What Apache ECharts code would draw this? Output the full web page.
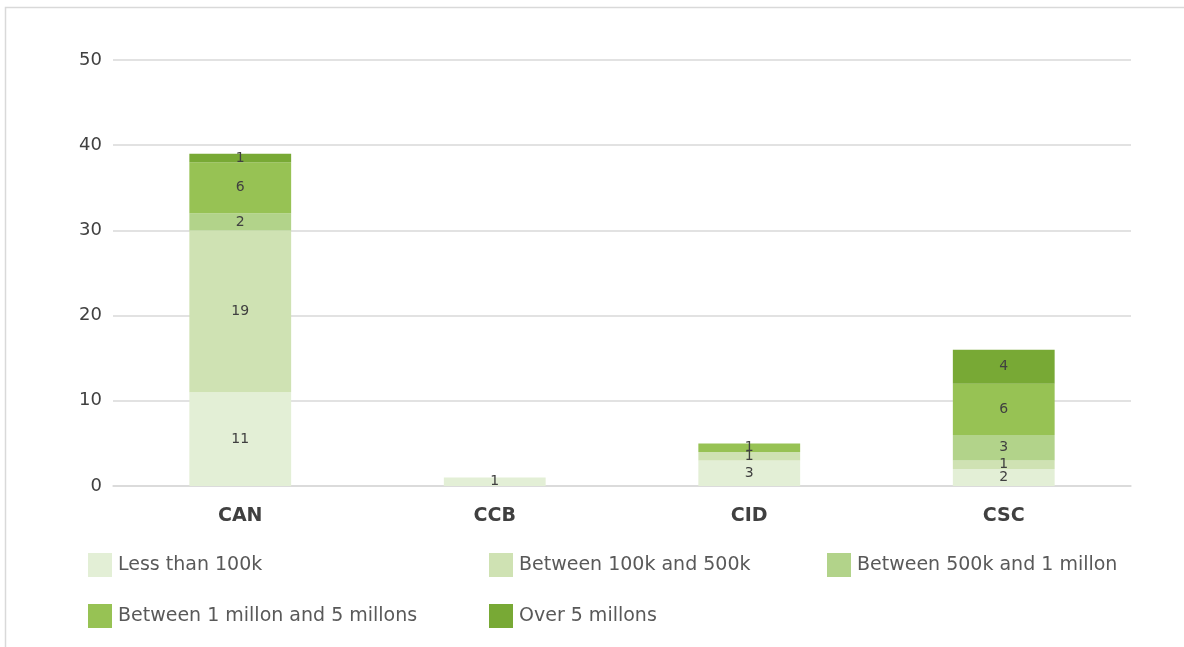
<!DOCTYPE html>
<html><head><meta charset="utf-8">
<script src="https://cdn.jsdelivr.net/npm/echarts@6/dist/echarts.min.js"></script>
<style>html,body{margin:0;padding:0;background:#fff}#c{width:1184px;height:647px}</style>
</head><body><div id="c"></div>
<script>
const categories = ['CAN', 'CCB', 'CID', 'CSC'];
const seriesNames = ['Less than 100k', 'Between 100k and 500k', 'Between 500k and 1 millon', 'Between 1 millon and 5 millons', 'Over 5 millons'];
const lessThan100k = [11, 1, 3, 2];
const between100kAnd500k = [19, 0, 1, 1];
const between500kAnd1M = [2, 0, 0, 3];
const between1MAnd5M = [6, 0, 1, 6];
const over5M = [1, 0, 0, 4];
const yTicks = [0, 10, 20, 30, 40, 50];

const values = [lessThan100k, between100kAnd500k, between500kAnd1M, between1MAnd5M, over5M];
const colors = ['#e3efd6', '#cfe2b3', '#b2d38a', '#97c254', '#78a935'];
const font = '"DejaVu Sans", sans-serif';
const legendPos = [[88, 553], [489, 553], [827, 553], [88, 604], [489, 604]];

const chart = echarts.init(document.getElementById('c'));
chart.setOption({
  animation: false,
  textStyle: { fontFamily: font },
  graphic: [{
    type: 'rect', shape: { x: 5.5, y: 7.5, width: 1300, height: 800 },
    style: { fill: 'none', stroke: '#d9d9d9', lineWidth: 1.5 }, silent: true
  }],
  grid: { left: 113, right: 53, top: 60, bottom: 161, containLabel: false },
  legend: seriesNames.map((n, i) => ({
    data: [n], left: legendPos[i][0], top: legendPos[i][1],
    itemWidth: 24, itemHeight: 24, itemGap: 0, icon: 'rect',
    textStyle: { fontSize: 19, color: '#595959', fontFamily: font, padding: [0, 0, 0, 1] },
    padding: 0, selectedMode: false
  })),
  xAxis: {
    type: 'category', data: categories,
    axisLine: { lineStyle: { color: '#d9d9d9', width: 1.5 } },
    axisTick: { show: false },
    axisLabel: { fontSize: 19, fontWeight: 'bold', color: '#404040', margin: 21 }
  },
  yAxis: {
    type: 'value', min: yTicks[0], max: yTicks[yTicks.length - 1], interval: 10,
    axisLine: { show: false }, axisTick: { show: false },
    splitLine: { lineStyle: { color: '#d9d9d9', width: 1.5 } },
    axisLabel: { fontSize: 18, color: '#404040', margin: 11 }
  },
  series: seriesNames.map((n, i) => ({
    name: n, type: 'bar', stack: 'total', data: values[i], barWidth: '40%',
    itemStyle: { color: colors[i] },
    label: {
      show: true, position: 'inside', color: '#404040', fontSize: 14,
      formatter: p => p.value > 0 ? String(p.value) : ''
    }
  }))
});
</script></body></html>
